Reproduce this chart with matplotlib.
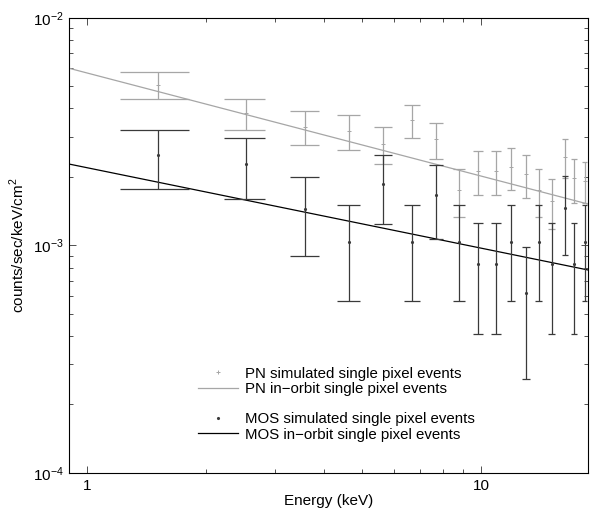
import matplotlib
matplotlib.use("Agg")
import matplotlib.pyplot as plt
from matplotlib.lines import Line2D
from matplotlib.ticker import LogLocator, NullFormatter

plt.rcParams['font.family'] = ['Liberation Sans', 'DejaVu Sans']
plt.rcParams['mathtext.fontset'] = 'custom'
plt.rcParams['mathtext.rm'] = 'Liberation Sans'

# Energy bins (keV)
energy = [1.51, 2.53, 3.57, 4.62, 5.64, 6.68, 7.69, 8.79, 9.83, 10.9,
          11.9, 13.0, 14.0, 15.1, 16.3, 17.2, 18.3]

# PN simulated (counts/sec/keV/cm^2) and 1-sigma errors
pn_val = [5.08e-3, 3.81e-3, 3.33e-3, 3.19e-3, 2.79e-3, 3.56e-3, 2.93e-3, 1.75e-3,
          2.13e-3, 2.13e-3, 2.22e-3, 2.06e-3, 1.75e-3, 1.57e-3, 2.46e-3, 1.97e-3, 1.93e-3]
pn_err = [0.69e-3, 0.60e-3, 0.57e-3, 0.55e-3, 0.52e-3, 0.59e-3, 0.54e-3, 0.41e-3,
          0.46e-3, 0.46e-3, 0.47e-3, 0.45e-3, 0.41e-3, 0.39e-3, 0.49e-3, 0.43e-3, 0.40e-3]

# MOS simulated
mos_val = [2.49e-3, 2.29e-3, 1.45e-3, 1.04e-3, 1.87e-3, 1.04e-3, 1.66e-3, 1.04e-3,
           0.83e-3, 0.83e-3, 1.04e-3, 0.62e-3, 1.04e-3, 0.83e-3, 1.46e-3, 0.83e-3, 1.04e-3]
mos_err = [0.72e-3, 0.69e-3, 0.55e-3, 0.47e-3, 0.63e-3, 0.47e-3, 0.59e-3, 0.47e-3,
           0.42e-3, 0.42e-3, 0.47e-3, 0.36e-3, 0.47e-3, 0.42e-3, 0.55e-3, 0.42e-3, 0.47e-3]

# In-orbit power-law fits, given at the plot edges
fit_e = [0.9, 18.7]
pn_fit = [6.01e-3, 1.52e-3]
mos_fit = [2.28e-3, 7.80e-4]

cap_half = 0.3  # keV, cap half-width

GRAY = '#a6a6a6'
DARK = '#3a3a3a'

fig = plt.figure(figsize=(5.90, 5.13), dpi=100)
ax = fig.add_axes([0.117, 0.078, 0.880, 0.887])

# PN
ax.plot(fit_e, pn_fit, color=GRAY, lw=0.9)
ax.errorbar(energy, pn_val, yerr=pn_err, fmt='+', color=GRAY, ms=3, mew=0.7,
            elinewidth=0.9, capsize=0)
ax.hlines([v + e for v, e in zip(pn_val, pn_err)],
          [x - cap_half for x in energy], [x + cap_half for x in energy], color=GRAY, lw=0.9)
ax.hlines([v - e for v, e in zip(pn_val, pn_err)],
          [x - cap_half for x in energy], [x + cap_half for x in energy], color=GRAY, lw=0.9)

# MOS
ax.plot(fit_e, mos_fit, color='black', lw=0.9)
ax.errorbar(energy, mos_val, yerr=mos_err, fmt='.', color=DARK, ms=2.5,
            elinewidth=0.9, capsize=0)
ax.hlines([v + e for v, e in zip(mos_val, mos_err)],
          [x - cap_half for x in energy], [x + cap_half for x in energy], color=DARK, lw=0.9)
ax.hlines([v - e for v, e in zip(mos_val, mos_err)],
          [x - cap_half for x in energy], [x + cap_half for x in energy], color=DARK, lw=0.9)

ax.set_xscale('log')
ax.set_yscale('log')
ax.set_xlim(0.9, 18.7)
ax.set_ylim(1e-4, 1e-2)
ax.xaxis.set_minor_locator(LogLocator(base=10, subs=range(2, 10)))
ax.xaxis.set_minor_formatter(NullFormatter())
ax.set_xticks([1, 10])
ax.set_xticklabels(['1', '10'])
ax.yaxis.set_minor_locator(LogLocator(base=10, subs=range(2, 10)))
ax.yaxis.set_minor_formatter(NullFormatter())

ax.tick_params(which='both', direction='in', top=True, right=True, labelsize=11,
               width=0.6, color='#333333')
ax.tick_params(which='major', length=5, pad=4)
ax.tick_params(which='minor', length=3)
for s in ax.spines.values():
    s.set_linewidth(0.8)

ax.set_xlabel('Energy (keV)', fontsize=11, labelpad=1)
ax.set_ylabel('counts/sec/keV/cm$^2$', fontsize=11)

handles = [
    Line2D([], [], ls='none', marker='+', color=GRAY, ms=3, mew=0.7),
    Line2D([], [], color=GRAY, lw=0.9),
    Line2D([], [], ls='none', marker='none'),
    Line2D([], [], ls='none', marker='.', color=DARK, ms=2.5),
    Line2D([], [], color='black', lw=0.9),
]
labels = ['PN simulated single pixel events', 'PN in\u2212orbit single pixel events', ' ',
          'MOS simulated single pixel events', 'MOS in\u2212orbit single pixel events']
ax.legend(handles, labels, loc='lower left', bbox_to_anchor=(0.236, 0.056), frameon=False,
          fontsize=10.8, handlelength=2.7, handletextpad=0.45, labelspacing=0.08,
          borderaxespad=0)

fig.savefig('out.png', dpi=100)
